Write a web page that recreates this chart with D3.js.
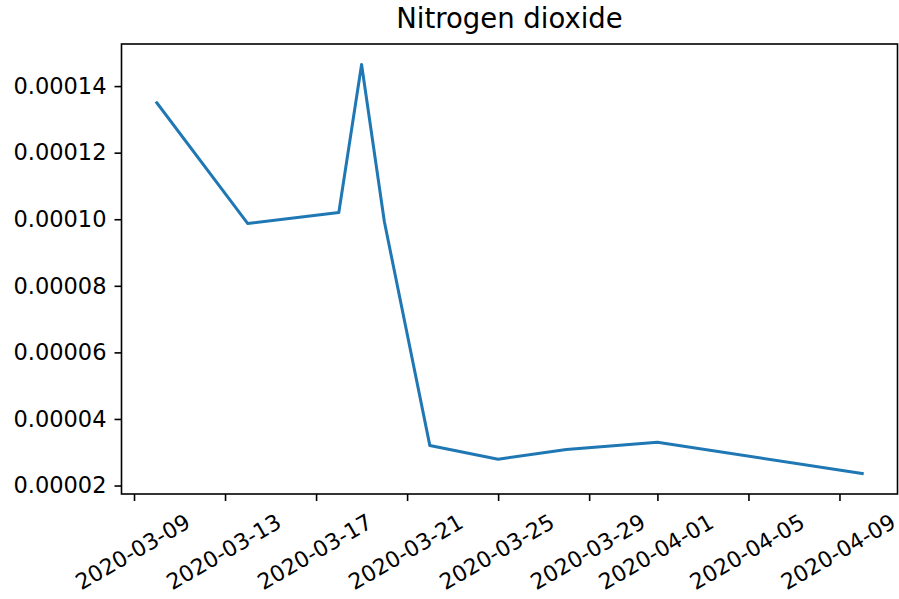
<!DOCTYPE html>
<html>
<head>
<meta charset="utf-8">
<script src="https://cdn.jsdelivr.net/npm/d3@7"></script>
<style>
    body { margin: 0; background: #fff; }
    svg { display: block; font-family: "DejaVu Sans", sans-serif; }
</style>
</head>
<body>
<svg id="chart"></svg>
<script>
// данные
const dates = ["2020-03-10", "2020-03-14", "2020-03-18", "2020-03-19", "2020-03-20",
    "2020-03-22", "2020-03-25", "2020-03-28", "2020-04-01", "2020-04-10"];
const no2Values = [0.0001350, 0.0000987, 0.0001020, 0.0001465, 0.0000993,
    0.0000320, 0.0000279, 0.0000308, 0.0000330, 0.0000236];
const xTickLabels = ["2020-03-09", "2020-03-13", "2020-03-17", "2020-03-21", "2020-03-25",
    "2020-03-29", "2020-04-01", "2020-04-05", "2020-04-09"];
const yTickValues = [0.00002, 0.00004, 0.00006, 0.00008, 0.00010, 0.00012, 0.00014];
const title = "Nitrogen dioxide";

const width = 899;
const height = 599;
const left = 121.5;
const right = 897.5;
const top_ = 44;
const bottom = 494;
const font = "'DejaVu Sans', sans-serif";

const parse = d3.utcParse("%Y-%m-%d");
const points = dates.map((d, i) => ({ date: parse(d), value: no2Values[i] }));

let svg = d3.select("#chart")
    .attr("width", width)
    .attr("height", height);

function createAxis(data) {
    // поля как в matplotlib: 5% с каждой стороны
    let [x0, x1] = d3.extent(data, d => +d.date);
    let dx = (x1 - x0) * 0.05;
    let [y0, y1] = d3.extent(data, d => d.value);
    let dy = (y1 - y0) * 0.05;

    let scaleX = d3.scaleUtc()
        .domain([new Date(x0 - dx), new Date(x1 + dx)])
        .range([left, right]);
    let scaleY = d3.scaleLinear()
        .domain([y0 - dy, y1 + dy])
        .range([bottom, top_]);

    let axisX = d3.axisBottom(scaleX)
        .tickValues(xTickLabels.map(parse))
        .tickFormat(d3.utcFormat("%Y-%m-%d"))
        .tickSize(7)
        .tickPadding(7);
    let axisY = d3.axisLeft(scaleY)
        .tickValues(yTickValues)
        .tickFormat(d3.format(".5f"))
        .tickSize(7)
        .tickPadding(8);

    let gx = svg.append("g")
        .attr("transform", `translate(0, ${bottom})`)
        .call(axisX)
        .attr("font-family", font);
    gx.select(".domain").remove();
    gx.selectAll("line").attr("stroke", "#000").attr("stroke-width", 1.6);
    // подписи повернуты на 30 градусов вокруг центра
    gx.selectAll("text")
        .attr("font-size", 22)
        .attr("fill", "#000")
        .attr("x", -2)
        .attr("y", 0)
        .attr("dy", null)
        .attr("dominant-baseline", "central")
        .style("text-anchor", "middle")
        .attr("transform", "translate(0, 57) rotate(-30)");

    let gy = svg.append("g")
        .attr("transform", `translate(${left}, 0)`)
        .call(axisY)
        .attr("font-family", font);
    gy.select(".domain").remove();
    gy.selectAll("line").attr("stroke", "#000").attr("stroke-width", 1.6);
    gy.selectAll("text")
        .attr("font-size", 22.5)
        .attr("fill", "#000");

    return [scaleX, scaleY];
}

function drawGraph() {
    const [scX, scY] = createAxis(points);

    let line = d3.line()
        .x(d => scX(d.date))
        .y(d => scY(d.value));

    svg.append("path")
        .datum(points)
        .attr("d", line)
        .attr("fill", "none")
        .attr("stroke", "#1f77b4")
        .attr("stroke-width", 3)
        .attr("stroke-linejoin", "round")
        .attr("stroke-linecap", "square");

    // рамка
    svg.append("rect")
        .attr("x", left)
        .attr("y", top_)
        .attr("width", right - left)
        .attr("height", bottom - top_)
        .attr("fill", "none")
        .attr("stroke", "#000")
        .attr("stroke-width", 1.6);

    svg.append("text")
        .attr("x", (left + right) / 2)
        .attr("y", 28)
        .attr("text-anchor", "middle")
        .attr("font-family", font)
        .attr("font-size", 27.5)
        .attr("fill", "#000")
        .text(title);
}

drawGraph();
</script>
</body>
</html>
